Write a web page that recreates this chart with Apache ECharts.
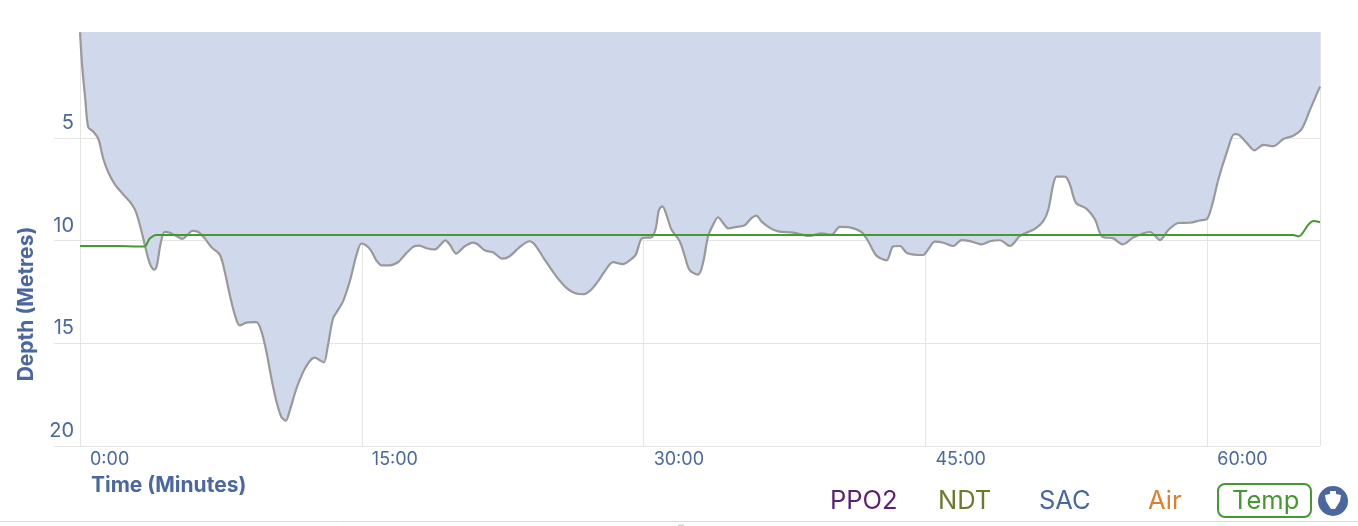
<!DOCTYPE html>
<html>
	<head>
		<meta charset="UTF-8">
		<title>Dive profile</title>
		<style>
			html, body { margin: 0; padding: 0; background: #fff; }
			#main { width: 1358px; height: 526px; }
		</style>
	</head>
	<body>
		<div id="main"></div>
		<script src="https://cdn.jsdelivr.net/npm/echarts@6/dist/echarts.min.js"></script>
		<script type="text/javascript">
			// minutes into the dive
			var depthTimes = [0,0.12,0.27,0.44,0.69,0.98,1.22,1.51,1.85,2.29,2.65,2.96,3.27,3.62,3.8,3.96,4.1,4.28,4.51,4.78,5.13,5.45,5.7,5.98,6.28,6.64,7,7.44,7.7,7.97,8.24,8.5,8.86,9.39,9.66,9.92,10.19,10.46,10.72,10.95,11.17,11.52,11.88,12.23,12.5,12.76,12.98,13.2,13.47,13.74,14,14.36,14.72,14.98,15.25,15.5,15.78,16.05,16.49,16.94,17.3,17.73,18.05,18.44,18.89,19.19,19.45,19.68,20.03,20.47,20.92,21.18,21.54,21.98,22.48,22.87,23.4,23.93,24.2,24.73,25.35,25.89,26.33,26.83,27.22,27.57,27.93,28.37,28.9,29.26,29.58,29.93,30.41,30.63,30.82,31,31.21,31.48,31.92,32.19,32.45,32.9,33.16,33.43,33.7,33.96,34.23,34.5,34.94,35.38,35.74,36,36.27,36.72,37.16,37.96,38.84,39.47,40,40.44,40.97,41.6,41.95,42.39,42.93,43.28,43.64,44.03,44.88,45.15,45.5,45.95,46.48,46.92,47.37,47.99,48.43,48.96,49.5,50.03,50.83,51.27,51.54,51.8,51.98,52.43,52.69,53.01,53.58,54.02,54.41,55,55.5,56.06,56.95,57.48,57.93,58.46,59.08,59.61,59.97,60.24,60.59,61.03,61.44,61.66,62.1,62.51,62.99,63.52,64.05,64.58,65.03,65.47,66];
			// metres
			var depthValues = [-0.15,1.54,3,4.48,4.67,5.05,5.95,6.68,7.25,7.74,8.1,8.56,9.53,10.84,11.28,11.41,11.17,10.19,9.57,9.62,9.78,9.91,9.75,9.52,9.57,9.89,10.32,10.68,11.49,12.63,13.6,14.13,13.99,13.97,14.43,15.4,16.71,17.85,18.59,18.77,18.26,17.2,16.39,15.86,15.7,15.82,15.93,15.08,13.78,13.37,12.96,11.98,10.68,10.14,10.24,10.5,10.97,11.2,11.2,11.04,10.68,10.3,10.24,10.37,10.43,10.19,9.99,10.19,10.63,10.28,10.1,10.19,10.47,10.57,10.88,10.76,10.31,10.03,10.19,10.92,11.74,12.3,12.55,12.61,12.38,11.98,11.49,11.05,11.14,10.96,10.68,9.87,9.84,9.46,8.49,8.33,8.73,9.46,10.03,10.76,11.44,11.65,11.09,9.79,9.22,8.86,9.14,9.4,9.33,9.25,8.9,8.78,9.06,9.38,9.55,9.61,9.77,9.64,9.71,9.33,9.35,9.59,10.03,10.73,10.96,10.28,10.26,10.61,10.7,10.42,10.05,10.1,10.26,9.97,10.02,10.18,10.03,9.98,10.26,9.77,9.42,9.05,8.48,7.27,6.88,6.88,7.27,8.16,8.45,8.96,9.81,9.89,10.18,9.85,9.58,9.97,9.48,9.14,9.13,9.01,8.96,8.32,7.02,5.73,4.81,4.84,5.24,5.6,5.34,5.4,5.05,4.89,4.56,3.62,2.5];

			// temperature line, drawn against the same axes
			var tempTimes = [0,2,3.09,3.44,3.71,4.07,4.4,5,20,40,60,64.58,64.88,65.12,65.38,65.65,66];
			var tempValues = [10.26,10.26,10.28,10.28,9.9,9.72,9.73,9.73,9.73,9.73,9.73,9.73,9.79,9.57,9.22,9.04,9.1];

			var depthTicks = [5,10,15,20];
			var legendNames = ['PPO2','NDT','SAC','Air','Temp'];
			var legendColors = ['#5c1f78','#6b7a2b','#4a67a1','#e07f2f','#459a2f'];
			var legendLeft = [830,938,1039,1148,1232];

			var blue = '#4a67a1';
			var grey = '#e4e4e4';

			function pairs(xs, ys) {
				var out = [];
				for (var i = 0; i < xs.length; i++) {
					out.push([xs[i], ys[i]]);
				}
				return out;
			}

			// axis titles sit off centre in the original, so they are placed by hand
			var extras = [{
				type: 'text',
				x: 91,
				y: 486,
				style: { text: 'Time (Minutes)', fill: blue, font: 'bold 21px Inter', align: 'left', verticalAlign: 'middle' }
			}, {
				type: 'text',
				x: 27,
				y: 304,
				rotation: Math.PI / 2,
				style: { text: 'Depth (Metres)', fill: blue, font: 'bold 21px Inter', align: 'center', verticalAlign: 'middle' }
			}];

			// legend row at the bottom right, only Temp is switched on
			for (var i = 0; i < legendNames.length; i++) {
				extras.push({
					type: 'text',
					x: legendLeft[i],
					y: 488,
					style: { text: legendNames[i], fill: legendColors[i], font: '25.5px Inter' }
				});
			}
			extras.push({
				type: 'rect',
				shape: { x: 1218, y: 484, width: 93, height: 33, r: 7 },
				style: { fill: 'none', stroke: '#459a2f', lineWidth: 2 }
			});
			// round button with the little shield
			extras.push({
				type: 'circle',
				shape: { cx: 1333, cy: 501, r: 15 },
				style: { fill: blue }
			});
			extras.push({
				type: 'polygon',
				shape: { points: [[1330,491],[1336,491],[1336,494],[1341,495],[1340,501],[1337,506],[1335,509],[1331,509],[1329,506],[1326,501],[1325,495],[1330,494]] },
				style: { fill: '#fff' }
			});
			// page rule under the chart
			extras.push({
				type: 'line',
				shape: { x1: 0, y1: 521.5, x2: 1358, y2: 521.5 },
				style: { stroke: '#dcdcdc', lineWidth: 1 }
			});
			extras.push({
				type: 'circle',
				shape: { cx: 681, cy: 530, r: 5 },
				style: { fill: 'none', stroke: '#bbb', lineWidth: 1 }
			});

			var myChart = echarts.init(document.getElementById('main'));
			var option = {
				animation: false,
				backgroundColor: '#fff',
				textStyle: { fontFamily: 'Inter' },
				graphic: extras,
				grid: { left: 80, right: 38, top: 32, bottom: 80 },
				xAxis: {
					type: 'value',
					min: 0,
					max: 66,
					interval: 15,
					axisLine: { show: true, lineStyle: { color: grey } },
					axisTick: { show: true, length: 20, lineStyle: { color: grey } },
					splitLine: { show: true, lineStyle: { color: grey } },
					axisLabel: {
						color: blue, fontSize: 18, align: 'left', margin: 5, padding: [0, 0, 0, 10],
						showMaxLabel: false,
						formatter: function (v) { return v + ':00'; }
					}
				},
				yAxis: {
					type: 'value',
					inverse: true,
					min: -0.16,
					max: 20,
					axisLine: { show: true, lineStyle: { color: grey } },
					axisTick: { show: true, length: 26, customValues: depthTicks, lineStyle: { color: grey } },
					splitLine: { show: true, lineStyle: { color: grey } },
					axisLabel: {
						color: blue, fontSize: 20, margin: 6, verticalAlign: 'bottom', padding: [0, 0, 5, 0],
						customValues: depthTicks
					}
				},
				series: [{
					name: 'Depth',
					type: 'line',
					smooth: 0.3,
					showSymbol: false,
					data: pairs(depthTimes, depthValues),
					lineStyle: { color: '#999', width: 2.2 },
					areaStyle: { color: '#cfd9eb', opacity: 1, origin: 'start' }
				}, {
					name: 'Temp',
					type: 'line',
					smooth: 0.3,
					showSymbol: false,
					data: pairs(tempTimes, tempValues),
					lineStyle: { color: '#459a2f', width: 2 }
				}]
			};
			myChart.setOption(option);
		</script>
	</body>
</html>
